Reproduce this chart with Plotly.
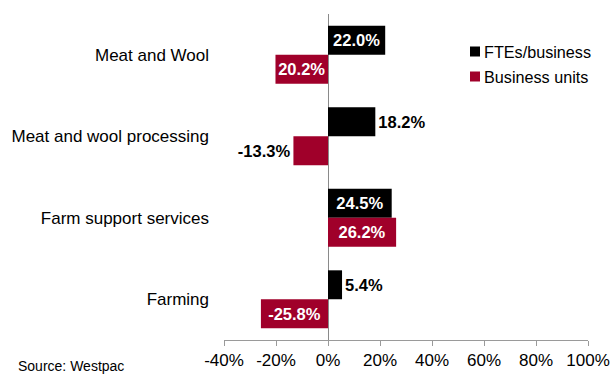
import plotly.graph_objects as go

# Industry groups, listed top to bottom
categories = ["Meat and Wool", "Meat and wool processing", "Farm support services", "Farming"]

# Percentage change by series
fte_per_business = [22.0, 18.2, 24.5, 5.4]
business_units = [-20.2, -13.3, 26.2, -25.8]

# Printed value labels
fte_labels = ["22.0%", "18.2%", "24.5%", "5.4%"]
bu_labels = ["20.2%", "-13.3%", "26.2%", "-25.8%"]

# x-axis ticks
x_ticks = [-40, -20, 0, 20, 40, 60, 80, 100]
x_ticktext = ["-40%", "-20%", "0%", "20%", "40%", "60%", "80%", "100%"]

FONT = "Liberation Sans, Arial, sans-serif"
BLACK = "#000000"
MAROON = "#A0002A"

ML, MR, MT, MB = 224, 23, 14, 36
W, H = 611, 376
PW, PH = W - ML - MR, H - MT - MB

fte_pos = ["inside", "outside", "inside", "outside"]
fte_col = ["white", "black", "white", "black"]
bu_pos = ["inside", "outside", "inside", "inside"]
bu_col = ["white", "black", "white", "white"]

series = [
    ("FTEs/business", fte_per_business, fte_labels, fte_pos, fte_col, BLACK),
    ("Business units", business_units, bu_labels, bu_pos, bu_col, MAROON),
]

fig = go.Figure()
for name, vals, labels, pos, cols, color in series:
    fig.add_trace(go.Bar(
        y=categories, x=vals, orientation="h", name=name, showlegend=False,
        marker=dict(color=color, line=dict(width=0)),
        text=labels, textposition=pos, insidetextanchor="middle",
        textfont=dict(family=FONT, size=16.5, color=cols, weight="bold"),
        constraintext="none", cliponaxis=False, textangle=0,
    ))

# Legend: small colour squares with series names, placed in pixel terms
def px_x(px):
    return (px - ML) / PW

def px_y(py):
    return (H - MB - py) / PH

shapes, annotations = [], []
for i, (name, _, _, _, _, color) in enumerate(series):
    cy = 51.5 + 25 * i
    shapes.append(dict(
        type="rect", xref="paper", yref="paper",
        x0=px_x(470), x1=px_x(480), y0=px_y(cy + 5), y1=px_y(cy - 5),
        fillcolor=color, line=dict(width=0),
    ))
    annotations.append(dict(
        text=name, xref="paper", yref="paper", x=px_x(482), y=px_y(cy),
        xanchor="left", yanchor="middle", showarrow=False,
        font=dict(family=FONT, size=16.2, color="black"),
    ))

annotations.append(dict(
    text="Source: Westpac", xref="paper", yref="paper",
    x=px_x(16), y=px_y(376), xanchor="left", yanchor="bottom",
    showarrow=False, font=dict(family=FONT, size=14, color="black"),
))

fig.update_layout(
    width=W, height=H,
    margin=dict(l=ML, r=MR, t=MT, b=MB, autoexpand=False),
    paper_bgcolor="white", plot_bgcolor="white",
    barmode="group", bargap=0.29, bargroupgap=0,
    font=dict(family=FONT, size=17, color="black"),
    showlegend=False,
    xaxis=dict(
        range=[-40, 100], tickvals=x_ticks, ticktext=x_ticktext,
        showgrid=False, showline=True, linecolor="#9a9a9a", linewidth=1,
        ticks="outside", ticklen=5, tickcolor="#9a9a9a",
        zeroline=True, zerolinecolor="#8a8a8a", zerolinewidth=1,
        tickfont=dict(family=FONT, size=17, color="black"),
    ),
    yaxis=dict(
        autorange="reversed", showgrid=False, showline=False, ticks="",
        ticklabelstandoff=14, tickfont=dict(family=FONT, size=17, color="black"),
    ),
    shapes=shapes,
    annotations=annotations,
)

fig.write_html("out.html")
